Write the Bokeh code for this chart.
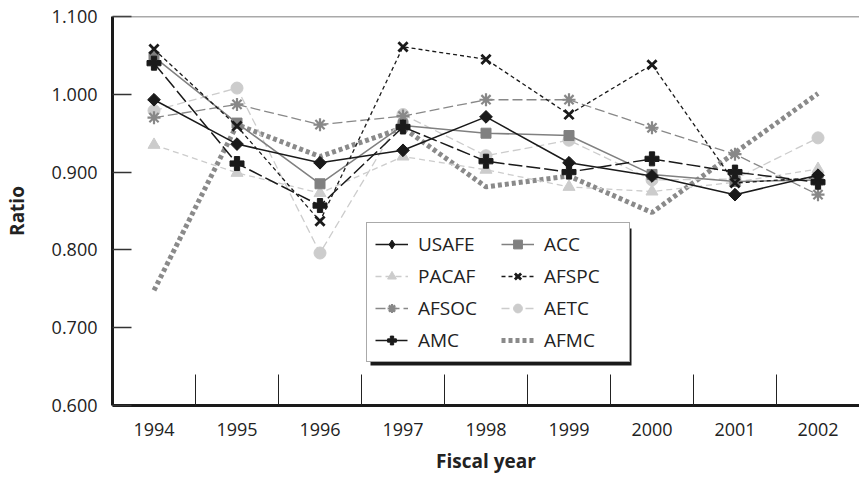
import math
from bokeh.plotting import figure
from bokeh.models import (Range1d, FixedTicker, NumeralTickFormatter, Span, Legend,
                          LegendItem, BoxAnnotation)
from bokeh.embed import file_html
from bokeh.resources import INLINE

years = ["1994", "1995", "1996", "1997", "1998", "1999", "2000", "2001", "2002"]
usafe = [0.993, 0.936, 0.912, 0.928, 0.971, 0.912, 0.895, 0.871, 0.896]
acc   = [1.048, 0.963, 0.885, 0.960, 0.950, 0.947, 0.897, 0.888, 0.890]
pacaf = [0.935, 0.899, 0.873, 0.920, 0.903, 0.881, 0.875, 0.887, 0.904]
afspc = [1.058, 0.959, 0.837, 1.061, 1.045, 0.974, 1.038, 0.886, 0.893]
afsoc = [0.970, 0.987, 0.961, 0.972, 0.993, 0.993, 0.957, 0.923, 0.871]
aetc  = [0.979, 1.008, 0.796, 0.974, 0.921, 0.941, 0.890, 0.891, 0.944]
amc   = [1.040, 0.911, 0.857, 0.958, 0.914, 0.900, 0.917, 0.900, 0.887]
afmc  = [0.748, 0.961, 0.920, 0.957, 0.881, 0.895, 0.848, 0.925, 1.001]
y_ticks = [0.6, 0.7, 0.8, 0.9, 1.0, 1.1]

xs = [i + 1 for i in range(len(years))]
FONT = "Open Sans"

p = figure(width=859, height=478, output_backend="svg", toolbar_location=None,
           x_range=Range1d(0.5, 9.5), y_range=Range1d(0.6, 1.1),
           min_border_left=111, min_border_right=0, min_border_top=16,
           min_border_bottom=73)
p.outline_line_color = None
p.grid.visible = False
p.background_fill_color = "white"
p.border_fill_color = "white"

# top border line
p.add_layout(Span(location=1.1, dimension="width", line_color="#555555", line_width=1.5))

# y axis
ya = p.yaxis[0]
ya.ticker = FixedTicker(ticks=y_ticks, minor_ticks=[])
ya.formatter = NumeralTickFormatter(format="0.000")
ya.axis_line_color = "#1a1a1a"
ya.axis_line_width = 3
ya.major_tick_in = 19
ya.major_tick_out = 0
ya.major_tick_line_color = "#333333"
ya.major_tick_line_width = 1.5
ya.minor_tick_line_color = None
ya.major_label_text_font = FONT
ya.major_label_text_font_size = "18px"
ya.major_label_text_color = "#222222"
ya.major_label_standoff = 15
ya.axis_label = "Ratio"
ya.axis_label_text_font = FONT
ya.axis_label_text_font_style = "bold"
ya.axis_label_text_font_size = "19px"
ya.axis_label_text_color = "#222222"
ya.axis_label_standoff = 19

# x axis
xa = p.xaxis[0]
xa.ticker = FixedTicker(ticks=xs, minor_ticks=[x + 0.5 for x in xs[:-1]])
xa.major_label_overrides = {x: y for x, y in zip(xs, years)}
xa.axis_line_color = "#1a1a1a"
xa.axis_line_width = 3
xa.major_tick_line_color = None
xa.major_tick_in = 0
xa.major_tick_out = 0
xa.minor_tick_in = 31
xa.minor_tick_out = 0
xa.minor_tick_line_color = "#222222"
xa.minor_tick_line_width = 1
xa.major_label_text_font = FONT
xa.major_label_text_font_size = "18px"
xa.major_label_text_color = "#222222"
xa.major_label_standoff = 17
xa.axis_label = "Fiscal year"
xa.axis_label_text_font = FONT
xa.axis_label_text_font_style = "bold"
xa.axis_label_text_font_size = "19px"
xa.axis_label_text_color = "#222222"
xa.axis_label_standoff = 9

items = []

def add(name, vals, lcolor, lwidth, dash, marker, mcolor, msize, mline=1.0, angle=0.0,
        legend_marker=None):
    r = [p.line(xs, vals, line_color=lcolor, line_width=lwidth, line_dash=dash)]
    if marker is not None:
        if legend_marker is not None:
            # glyph used for the legend key; hidden beneath the plotted marker
            r.append(p.scatter(xs, vals, marker=legend_marker, size=msize + 2,
                               line_color=mcolor, fill_color=mcolor, line_width=mline))
        if marker in ("x", "asterisk"):
            s = p.scatter(xs, vals, marker=marker, size=msize, line_color=mcolor,
                          line_width=mline, fill_color=None)
        else:
            s = p.scatter(xs, vals, marker=marker, size=msize, line_color=mcolor,
                          fill_color=mcolor, line_width=mline, angle=angle)
        if legend_marker is None:
            r.append(s)
    items.append(LegendItem(label=name, renderers=r))

add("AFMC", afmc, "#8a8a8a", 5, "4 3", None, None, 0)
add("AETC", aetc, "#cccccc", 1.3, "8 4", "circle", "#cccccc", 12)
add("PACAF", pacaf, "#cccccc", 1.3, "6 4", "triangle", "#cccccc", 12)
add("AFSOC", afsoc, "#888888", 1.3, "10 4", "asterisk", "#888888", 13, 2.2)
add("ACC", acc, "#808080", 1.5, "solid", "square", "#808080", 10)
add("USAFE", usafe, "#1a1a1a", 1.5, "solid", "square", "#1a1a1a", 9, 1.0, math.pi / 4,
    legend_marker="diamond")
add("AMC", amc, "#1a1a1a", 1.5, "14 4", "plus", "#1a1a1a", 14)
add("AFSPC", afspc, "#1a1a1a", 1.3, "4 3", "x", "#1a1a1a", 13, 2.8)

order = ["USAFE", "ACC", "PACAF", "AFSPC", "AFSOC", "AETC", "AMC", "AFMC"]
by_name = {it.label.value: it for it in items}
legend_items = [by_name[n] for n in order]

LX, LY, LW, LH = 254, 43, 262, 138
shadow = BoxAnnotation(left=LX + 4, right=LX + LW + 3, bottom=LY - 3, top=LY + LH - 4,
                       left_units="screen", right_units="screen",
                       bottom_units="screen", top_units="screen",
                       fill_color="#1a1a1a", fill_alpha=1.0, line_color=None)
p.add_layout(shadow)

legend = Legend(items=legend_items, location=(LX, LY), orientation="horizontal", ncols=2,
                label_text_font=FONT, label_text_font_size="19px",
                label_text_color="#222222", glyph_width=33, glyph_height=22,
                label_width=77, label_standoff=10, spacing=6, padding=8,
                margin=0, border_line_color="#555555", border_line_width=1,
                background_fill_color="white", background_fill_alpha=1.0)
p.add_layout(legend, "center")

open("out.html", "w").write(file_html(p, INLINE))
